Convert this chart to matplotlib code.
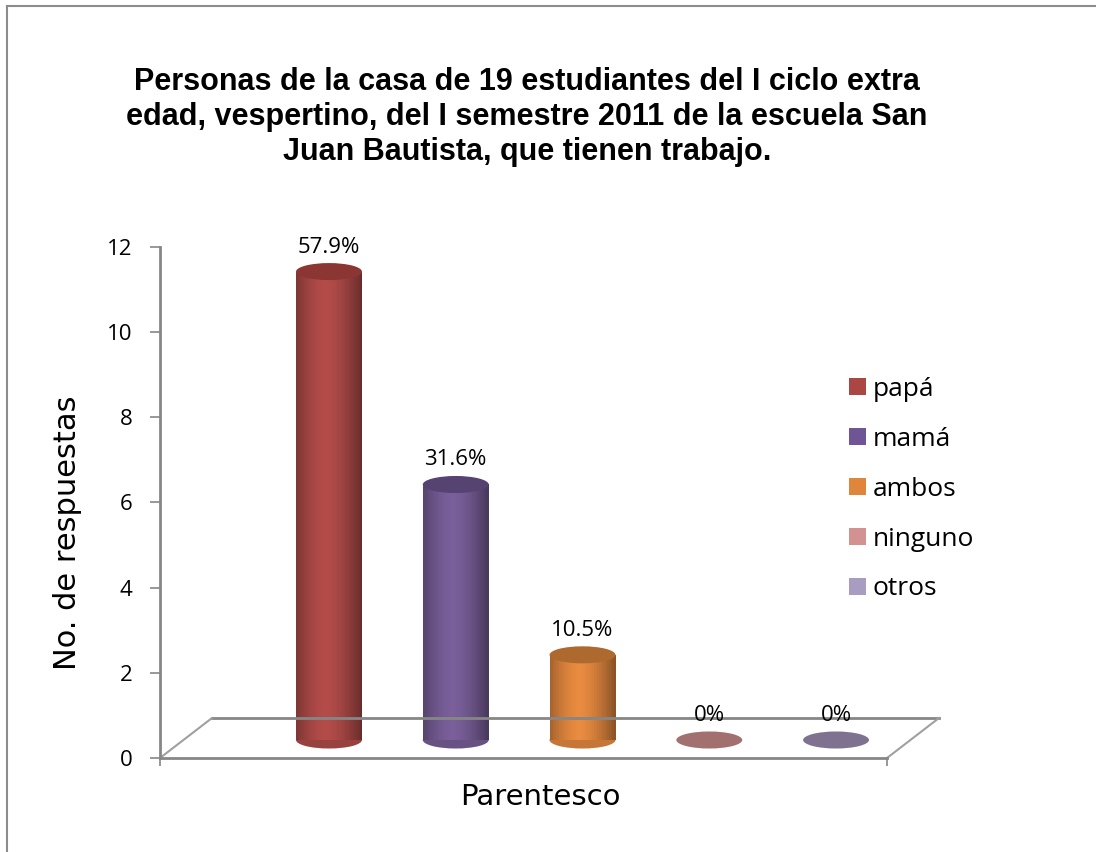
import numpy as np
import matplotlib
matplotlib.use("Agg")
import matplotlib.pyplot as plt
from matplotlib.patches import Rectangle, Ellipse, Patch
from matplotlib.lines import Line2D
from matplotlib import transforms

# ---- data
categories = ["papá", "mamá", "ambos", "ninguno", "otros"]
values = [11, 6, 2, 0, 0]
pct_labels = ["57.9%", "31.6%", "10.5%", "0%", "0%"]

body_colors = ["#B34C49", "#7A5F9A", "#E98B40", "#D99694", "#A99BBD"]
top_colors = ["#8C3634", "#564372", "#AE692E", "#A37070", "#7E7290"]
legend_colors = ["#AA4643", "#6F5595", "#E0863C", "#D29291", "#A89CC0"]

title = ("Personas de la casa de 19 estudiantes del I ciclo extra\n"
         "edad, vespertino, del I semestre 2011 de la escuela San\n"
         "Juan Bautista, que tienen trabajo.")

W, H, DPI = 1096, 852, 100
fig = plt.figure(figsize=(W / DPI, H / DPI), dpi=DPI)
fig.patch.set_facecolor("white")

# axes box = front plane of the 3D floor (pixels 160..887 x, 247..758 y)
ax = fig.add_axes([160 / W, 1 - 758 / H, 727 / W, 511 / H])
ax.set_xlim(-1.333, 4.402)
ax.set_ylim(0, 12)
ax.patch.set_alpha(0)

grey = "#868686"
for s in ["top", "right"]:
    ax.spines[s].set_visible(False)
for s in ["left", "bottom"]:
    ax.spines[s].set_color(grey)
    ax.spines[s].set_linewidth(2)

ax.set_yticks(range(0, 13, 2))
ax.set_xticks(ax.get_xlim())
ax.set_xticklabels([])
ax.tick_params(axis="y", colors=grey, labelcolor="black", length=7, width=1.2,
               pad=13, labelsize=16)
ax.tick_params(axis="x", colors=grey, length=6, width=1.2)
for lab in ax.get_yticklabels():
    lab.set_family("Open Sans")

# depth offset of the floor: back edge is 52px right, 40px up
back = ax.transData + transforms.ScaledTranslation(52 / DPI, 40 / DPI, fig.dpi_scale_trans)
x0, x1 = ax.get_xlim()
ax.plot([x0, x1], [0, 0], color=grey, lw=2, transform=back, clip_on=False)
for xe in (x0, x1):
    ax.plot([xe, xe + 52 / 126.75], [0, 40 / 42.58], color="#A0A0A0", lw=1.5,
            clip_on=False)

# cylinders sit in the middle of the floor depth
bar_tr = ax.transData + transforms.ScaledTranslation(0, 18 / DPI, fig.dpi_scale_trans)
bw = 0.52
eh = 0.40
nstrip = 40


def shade(c, f):
    r, g, b = matplotlib.colors.to_rgb(c)
    return (r * f, g * f, b * f)


for i, (v, bc, tc) in enumerate(zip(values, body_colors, top_colors)):
    if v > 0:
        ax.add_patch(Ellipse((i, 0), bw, eh, facecolor=shade(bc, 0.85),
                             edgecolor="none", transform=bar_tr, clip_on=False))
        edges = np.linspace(i - bw / 2, i + bw / 2, nstrip + 1)
        for k in range(nstrip):
            t = (edges[k] + edges[k + 1]) / 2 - i
            t = t / (bw / 2)
            f = 1 - 0.36 * abs(t + 0.1) ** 1.6
            ax.add_patch(Rectangle((edges[k], 0), (edges[1] - edges[0]) * 1.3, v,
                                   facecolor=shade(bc, f), edgecolor="none",
                                   transform=bar_tr, clip_on=False))
    ax.add_patch(Ellipse((i, v), bw, eh, facecolor=tc, edgecolor="none",
                         transform=bar_tr, clip_on=False))
    ax.annotate(pct_labels[i], (i, v), xycoords=bar_tr, xytext=(0, 14),
                textcoords="offset pixels", ha="center", va="bottom",
                fontsize=16, family="Open Sans")

fig.text(68 / W, 1 - 533 / H, "No. de respuestas", fontsize=22,
         family="DejaVu Sans", rotation=90, ha="center", va="center")

fig.text(540 / W, 1 - 797 / H, "Parentesco", fontsize=21, family="DejaVu Sans",
         ha="center", va="center")

fig.text(527 / W, 1 - 117 / H, title, fontsize=22, fontweight="bold",
         family="Liberation Sans", ha="center", va="center", linespacing=1.22)

handles = [Patch(facecolor=c, edgecolor="none") for c in legend_colors]
fig.legend(handles, categories, loc="upper left",
           bbox_to_anchor=(836 / W, 1 - 364 / H), frameon=False,
           prop={"family": "Open Sans", "size": 19}, handlelength=0.62,
           handleheight=0.62, handletextpad=0.28, labelspacing=0.94,
           borderpad=0)

# outer chart frame (top and left only are visible)
fig.add_artist(Line2D([7 / W, 1], [1 - 6 / H, 1 - 6 / H], color="#8C8C8C", lw=1.5,
                      transform=fig.transFigure))
fig.add_artist(Line2D([7 / W, 7 / W], [0, 1 - 6 / H], color="#8C8C8C", lw=1.5,
                      transform=fig.transFigure))

fig.savefig("out.png", dpi=DPI)
